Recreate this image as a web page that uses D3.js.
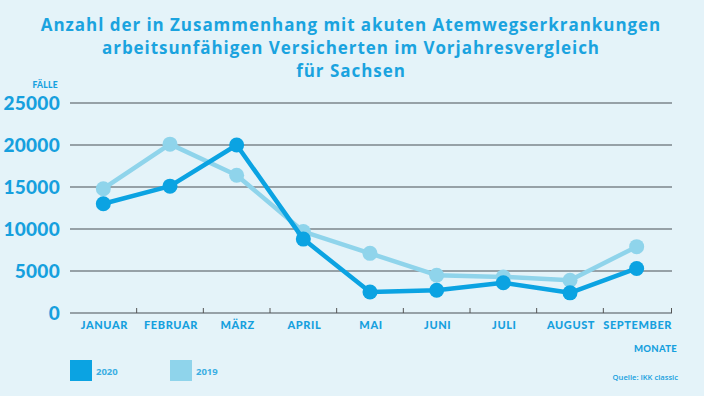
<!DOCTYPE html>
<html>
<head>
<meta charset="utf-8">
<script src="https://cdn.jsdelivr.net/npm/d3@7"></script>
<style>
  body { margin: 0; background: #e4f3f9; }
  svg { display: block; }
</style>
</head>
<body>
<script>
// chart data
var monate = ["JANUAR", "FEBRUAR", "MÄRZ", "APRIL", "MAI", "JUNI", "JULI", "AUGUST", "SEPTEMBER"];
var werte2020 = [13000, 15100, 20000, 8800, 2500, 2700, 3600, 2400, 5300];
var werte2019 = [14800, 20100, 16400, 9700, 7100, 4500, 4300, 3900, 7900];
var yTicks = [0, 5000, 10000, 15000, 20000, 25000];
var titel = ["Anzahl der in Zusammenhang mit akuten Atemwegserkrankungen",
             "arbeitsunfähigen Versicherten im Vorjahresvergleich",
             "für Sachsen"];

var width = 704, height = 396;
var blau = "#0ba3e2", hellblau = "#8fd4eb", grau = "#7d868b";

var svg = d3.select("body").append("svg")
    .attr("width", width)
    .attr("height", height);

svg.append("rect").attr("width", width).attr("height", height).attr("fill", "#e4f3f9");

// title
svg.append("g").selectAll("text")
    .data(titel)
    .enter()
    .append("text")
    .attr("x", 351)
    .attr("y", function(d, i){ return 31 + i * 23.2; })
    .attr("text-anchor", "middle")
    .attr("fill", "#1aa3df")
    .style("font-family", "'Open Sans', sans-serif")
    .style("font-weight", 700)
    .style("font-size", "17px")
    .style("letter-spacing", "0.95px")
    .text(function(d){ return d; });

var x = d3.scaleBand().domain(monate).range([70, 670]);
var y = d3.scaleLinear().domain([0, 25000]).range([313, 103]);

// gridlines
svg.append("g").selectAll("line")
    .data(yTicks.slice(1))
    .enter()
    .append("line")
    .attr("x1", 70).attr("x2", 672)
    .attr("y1", function(d){ return y(d); })
    .attr("y2", function(d){ return y(d); })
    .attr("stroke", grau)
    .attr("stroke-width", 1.6);

// y axis labels
svg.append("g").selectAll("text")
    .data(yTicks)
    .enter()
    .append("text")
    .attr("x", 60)
    .attr("y", function(d){ return y(d) + 7; })
    .attr("text-anchor", "end")
    .attr("fill", "#16a0de")
    .style("font-family", "'Lato', sans-serif")
    .style("font-weight", 900)
    .style("font-size", "19px")
    .style("letter-spacing", "0.3px")
    .text(function(d){ return d; });

// x axis
var xAxis = svg.append("g")
    .attr("transform", "translate(0,313)")
    .call(d3.axisBottom(x).tickSize(0).tickFormat(""));
xAxis.select(".domain").attr("d", "M70,0H672").attr("stroke", grau).attr("stroke-width", 1.6);
xAxis.append("g").selectAll("line")
    .data(monate.slice(1).concat(["end"]))
    .enter()
    .append("line")
    .attr("x1", function(d, i){ return 70 + x.bandwidth() * (i + 1) + (d == "end" ? 1.5 : 0); })
    .attr("x2", function(d, i){ return 70 + x.bandwidth() * (i + 1) + (d == "end" ? 1.5 : 0); })
    .attr("y1", -5).attr("y2", 0)
    .attr("stroke", "#555")
    .attr("stroke-width", 1);

svg.append("g").selectAll("text")
    .data(monate)
    .enter()
    .append("text")
    .attr("x", function(d){ return x(d) + x.bandwidth() / 2 + 1; })
    .attr("y", 329)
    .attr("text-anchor", "middle")
    .attr("fill", "#16a0de")
    .style("font-family", "'Lato', sans-serif")
    .style("font-weight", 900)
    .style("font-size", "11px")
    .style("letter-spacing", "0.6px")
    .text(function(d){ return d; });

// axis titles
svg.append("text").attr("x", 58).attr("y", 88).attr("text-anchor", "end")
    .attr("fill", "#16a0de")
    .style("font-family", "'Lato', sans-serif").style("font-weight", 900).style("font-size", "8.5px")
    .style("letter-spacing", "0.3px")
    .text("FÄLLE");
svg.append("text").attr("x", 677).attr("y", 352).attr("text-anchor", "end")
    .attr("fill", "#16a0de")
    .style("font-family", "'Lato', sans-serif").style("font-weight", 900).style("font-size", "9.5px")
    .style("letter-spacing", "0.3px")
    .text("MONATE");
svg.append("text").attr("x", 678).attr("y", 380).attr("text-anchor", "end")
    .attr("fill", "#16a0de")
    .style("font-family", "'Open Sans', sans-serif").style("font-weight", 600).style("font-size", "7.6px")
    .text("Quelle: IKK classic");

// lines
var line = d3.line()
    .x(function(d, i){ return x(monate[i]) + x.bandwidth() / 2; })
    .y(function(d){ return y(d); });

function drawSeries(werte, farbe){
    svg.append("path")
        .datum(werte)
        .attr("d", line)
        .attr("fill", "none")
        .attr("stroke", farbe)
        .attr("stroke-width", 4.5)
        .attr("stroke-linejoin", "round");
    svg.append("g").selectAll("circle")
        .data(werte)
        .enter()
        .append("circle")
        .attr("cx", function(d, i){ return x(monate[i]) + x.bandwidth() / 2; })
        .attr("cy", function(d){ return y(d); })
        .attr("r", 7.5)
        .attr("fill", farbe);
}
drawSeries(werte2019, hellblau);
drawSeries(werte2020, blau);

// legend
var legende = [{name: "2020", farbe: blau, x: 70}, {name: "2019", farbe: hellblau, x: 170}];
var lg = svg.append("g").selectAll("g")
    .data(legende)
    .enter()
    .append("g");
lg.append("rect")
    .attr("x", function(d){ return d.x; })
    .attr("y", 360)
    .attr("width", 22).attr("height", 21)
    .attr("fill", function(d){ return d.farbe; });
lg.append("text")
    .attr("x", function(d){ return d.x + 26; })
    .attr("y", 374.5)
    .attr("fill", "#3aaee3")
    .style("font-family", "'Open Sans', sans-serif")
    .style("font-weight", 700)
    .style("font-size", "9.5px")
    .text(function(d){ return d.name; });
</script>
</body>
</html>
